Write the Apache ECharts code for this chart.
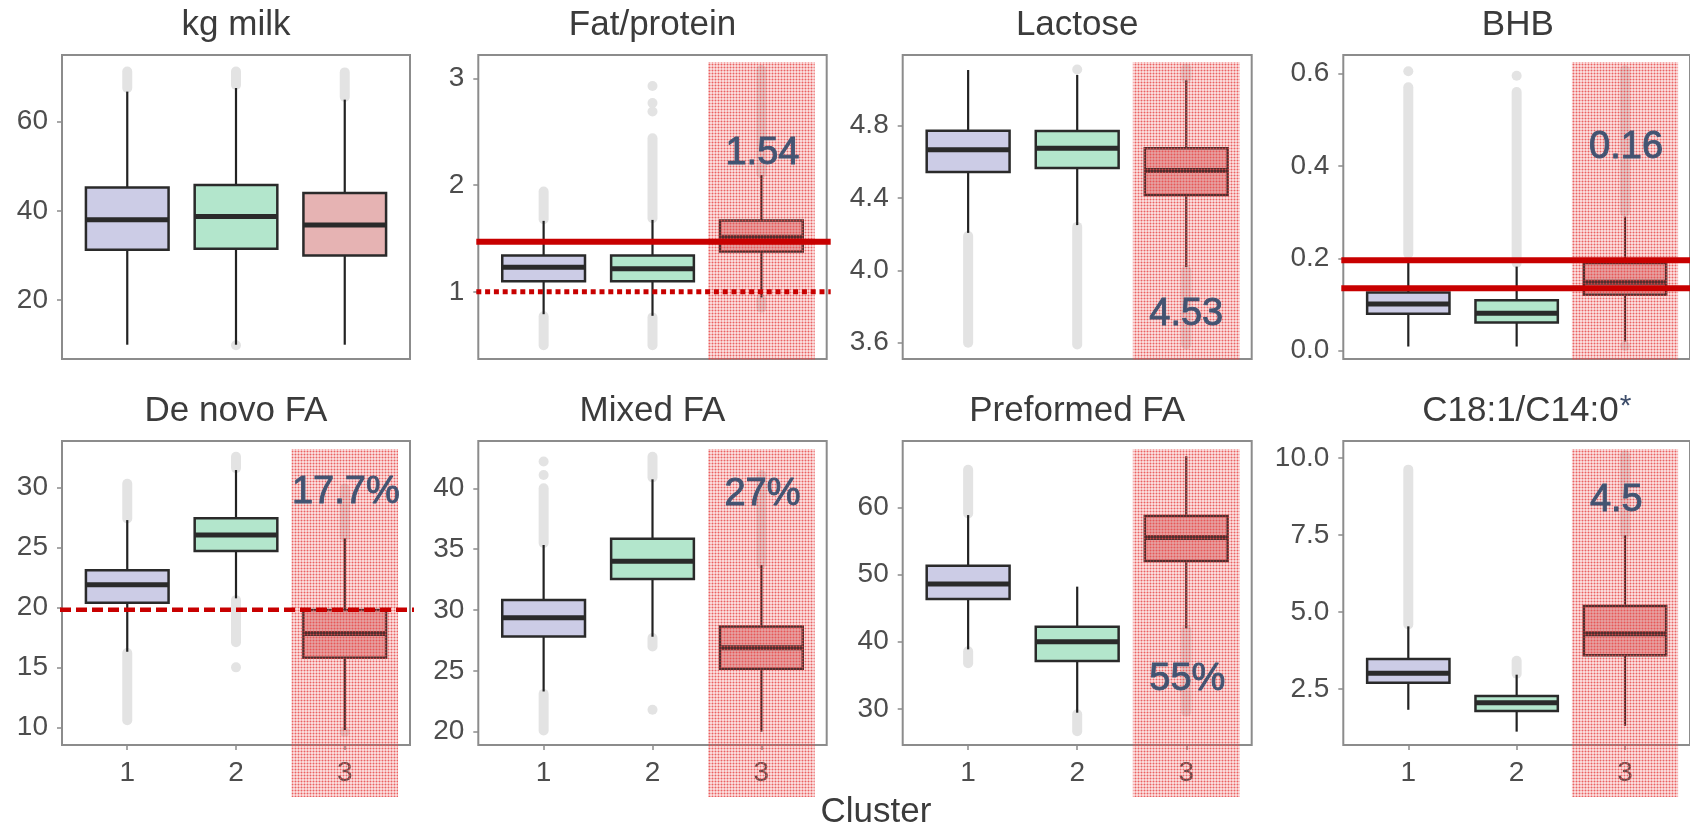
<!DOCTYPE html>
<html>
<head>
<meta charset="utf-8">
<script src="https://cdn.jsdelivr.net/npm/echarts@6/dist/echarts.min.js"></script>
<style>
  html, body { margin: 0; padding: 0; background: #ffffff; }
  #chart { width: 1690px; height: 831px; }
</style>
</head>
<body>
<div id="chart"></div>
<script>
// ---- data -------------------------------------------------------------
const clusterIds = [1, 2, 3];
const panelTitles = ['kg milk', 'Fat/protein', 'Lactose', 'BHB',
                     'De novo FA', 'Mixed FA', 'Preformed FA', 'C18:1/C14:0'];

// box statistics per cluster: [lower whisker, Q1, median, Q3, upper whisker]
const kgMilkBoxes     = [[10.0, 31.3, 38.0, 45.2, 66.7], [10.0, 31.5, 38.7, 45.8, 67.5], [10.0, 30.0, 36.8, 44.0, 64.9]];
const fatProteinBoxes = [[0.79, 1.10, 1.23, 1.34, 1.665], [0.775, 1.10, 1.215, 1.34, 1.674], [0.947, 1.377, 1.512, 1.668, 2.095]];
const lactoseBoxes    = [[4.207, 4.543, 4.666, 4.772, 5.107], [4.25, 4.565, 4.675, 4.77, 5.08], [4.018, 4.417, 4.552, 4.675, 5.05]];
const bhbBoxes        = [[0.009, 0.080, 0.101, 0.126, 0.200], [0.009, 0.061, 0.081, 0.109, 0.182], [0.020, 0.121, 0.148, 0.190, 0.290]];
const deNovoBoxes     = [[16.3, 20.38, 21.88, 23.1, 27.27], [20.75, 24.69, 26.03, 27.42, 31.44], [9.78, 15.8, 17.83, 19.78, 25.75]];
const mixedBoxes      = [[23.3, 27.81, 29.37, 30.82, 35.34], [27.8, 32.55, 34.0, 35.85, 40.74], [20.0, 25.16, 26.9, 28.65, 33.7]];
const preformedBoxes  = [[38.87, 46.36, 48.59, 51.3, 58.85], [29.45, 37.13, 40.0, 42.24, 48.2], [42.0, 52.0, 55.5, 58.7, 67.6]];
const c18Boxes        = [[1.83, 2.71, 3.02, 3.48, 4.54], [1.12, 1.79, 2.06, 2.28, 2.97], [1.31, 3.6, 4.3, 5.2, 7.5]];

// dense outlier runs per cluster: [from, to]
const kgMilkBands     = [[[67.5, 71.2]], [[68.2, 71.2]], [[65.5, 71.0]]];
const fatProteinBands = [[[1.68, 1.94], [0.50, 0.77]], [[1.69, 2.44], [0.50, 0.76]], [[2.11, 3.08], [0.85, 0.93]]];
const lactoseBands    = [[[3.60, 4.19]], [[3.59, 4.24]], [[5.06, 5.115], [3.59, 4.00]]];
const bhbBands        = [[[0.21, 0.57]], [[0.19, 0.56]], [[0.30, 0.607]]];
const deNovoBands     = [[[27.4, 30.3], [10.6, 16.2]], [[31.6, 32.55], [17.1, 20.6]], [[25.9, 29.9]]];
const mixedBands      = [[[35.5, 40.0], [20.1, 23.1]], [[40.9, 42.6], [27.0, 27.7]], [[33.8, 41.1]]];
const preformedBands  = [[[59.1, 65.6], [36.8, 38.6]], [[26.7, 29.2]], [[29.6, 41.8]]];
const c18Bands        = [[[4.6, 9.63]], [[3.0, 3.42]], [[7.55, 10.1]]];

// isolated outliers per cluster
const kgMilkPoints     = [[], [9.9], []];
const fatProteinPoints = [[], [2.69, 2.77, 2.93], []];
const lactosePoints    = [[], [5.11], []];
const bhbPoints        = [[0.605], [0.595], [0.01]];
const deNovoPoints     = [[], [15.0], [9.63]];
const mixedPoints      = [[41.1, 42.2], [21.8], []];
const preformedPoints  = [[], [], []];
const c18Points        = [[], [], []];

// y axis extents and tick values
const kgMilkRange = [6.8, 74.9],   kgMilkTicks = [20, 40, 60];
const fatProteinRange = [0.37, 3.22], fatProteinTicks = [1, 2, 3];
const lactoseRange = [3.51, 5.19], lactoseTicks = [3.6, 4.0, 4.4, 4.8];
const bhbRange = [-0.018, 0.64],   bhbTicks = [0, 0.2, 0.4, 0.6];
const deNovoRange = [8.53, 33.86], deNovoTicks = [10, 15, 20, 25, 30];
const mixedRange = [18.9, 43.89],  mixedTicks = [20, 25, 30, 35, 40];
const preformedRange = [24.64, 69.87], preformedTicks = [30, 40, 50, 60];
const c18Range = [0.686, 10.56],   c18Ticks = [2.5, 5.0, 7.5, 10.0];

// reference lines
const fatProteinRefs = [1.47, 1.0];
const bhbRefs = [0.196, 0.135];
const deNovoRefs = [19.8];

// cluster 3 call-outs (panels 2..8)
const cluster3Notes = ['1.54', '4.53', '0.16', '17.7%', '27%', '55%', '4.5'];

// ---- layout -------------------------------------------------------------
const FONT = '"Liberation Sans", Arial, Helvetica, sans-serif';
const colLeft = [62, 478.3, 902.7, 1343.3];
const colWidth = [348, 348.4, 349, 349];
const rowTop = [55, 441];
const plotH = 304;
const BOX_W = 0.76;
const fills = ['#ccccE6', '#b3e6cc', '#e6b3b3'];
const noteColor = '#435472';
const refRed = '#c80000';

const panels = [
  { boxes: kgMilkBoxes, bands: kgMilkBands, points: kgMilkPoints, range: kgMilkRange, ticks: kgMilkTicks, dec: 0 },
  { boxes: fatProteinBoxes, bands: fatProteinBands, points: fatProteinPoints, range: fatProteinRange, ticks: fatProteinTicks, dec: 0,
    note: cluster3Notes[0], noteAt: [3.01, 2.32] },
  { boxes: lactoseBoxes, bands: lactoseBands, points: lactosePoints, range: lactoseRange, ticks: lactoseTicks, dec: 1,
    note: cluster3Notes[1], noteAt: [3.0, 3.77] },
  { boxes: bhbBoxes, bands: bhbBands, points: bhbPoints, range: bhbRange, ticks: bhbTicks, dec: 1,
    note: cluster3Notes[2], noteAt: [3.01, 0.447] },
  { boxes: deNovoBoxes, bands: deNovoBands, points: deNovoPoints, range: deNovoRange, ticks: deNovoTicks, dec: 0,
    note: cluster3Notes[3], noteAt: [3.01, 29.84] },
  { boxes: mixedBoxes, bands: mixedBands, points: mixedPoints, range: mixedRange, ticks: mixedTicks, dec: 0,
    note: cluster3Notes[4], noteAt: [3.01, 39.72] },
  { boxes: preformedBoxes, bands: preformedBands, points: preformedPoints, range: preformedRange, ticks: preformedTicks, dec: 0,
    note: cluster3Notes[5], noteAt: [3.01, 34.8] },
  { boxes: c18Boxes, bands: c18Bands, points: c18Points, range: c18Range, ticks: c18Ticks, dec: 1,
    note: cluster3Notes[6], noteAt: [2.92, 8.71] }
];
panels.forEach((p, i) => { p.title = panelTitles[i]; });

// ---- rendering helpers ----------------------------------------------------
function renderBox(params, api) {
  const x = api.value(0);
  const lo = api.value(1), q1 = api.value(2), med = api.value(3), q3 = api.value(4), hi = api.value(5);
  const pLo = api.coord([x, lo]);
  const pHi = api.coord([x, hi]);
  const tl = api.coord([x - BOX_W / 2, q3]);
  const br = api.coord([x + BOX_W / 2, q1]);
  const m = api.coord([x, med]);
  const cx = pLo[0];
  return {
    type: 'group',
    children: [
      { type: 'line', shape: { x1: cx, y1: pHi[1], x2: cx, y2: tl[1] }, style: { stroke: '#222222', lineWidth: 2.2 } },
      { type: 'line', shape: { x1: cx, y1: br[1], x2: cx, y2: pLo[1] }, style: { stroke: '#222222', lineWidth: 2.2 } },
      { type: 'rect', shape: { x: tl[0], y: tl[1], width: br[0] - tl[0], height: br[1] - tl[1] },
        style: { fill: fills[Math.round(x) - 1], stroke: '#2a2a2a', lineWidth: 2.5 } },
      { type: 'line', shape: { x1: tl[0], y1: m[1], x2: br[0], y2: m[1] }, style: { stroke: '#2a2a2a', lineWidth: 5 } }
    ]
  };
}

function renderBand(params, api) {
  const a = api.coord([api.value(0), api.value(1)]);
  const b = api.coord([api.value(0), api.value(2)]);
  return { type: 'line', shape: { x1: a[0], y1: a[1], x2: b[0], y2: b[1] },
           style: { stroke: '#e3e3e3', lineWidth: 10, lineCap: 'round' } };
}

function renderPoint(params, api) {
  const c = api.coord([api.value(0), api.value(1)]);
  return { type: 'circle', shape: { cx: c[0], cy: c[1], r: 5 }, style: { fill: '#e3e3e3' } };
}

// fine red dot screen used to shade cluster 3
function makeHatch() {
  const c = document.createElement('canvas');
  c.width = 3; c.height = 3;
  const ctx = c.getContext('2d');
  const put = (x, y, a) => { ctx.fillStyle = 'rgba(230,70,70,' + a + ')'; ctx.fillRect(x, y, 1, 1); };
  put(0, 0, 0.2); put(2, 0, 0.2); put(0, 2, 0.2); put(2, 2, 0.2);
  put(1, 0, 0.45); put(0, 1, 0.45); put(2, 1, 0.45); put(1, 2, 0.45);
  put(1, 1, 0.85);
  return c;
}

// ---- option ---------------------------------------------------------------
const grids = [], xAxes = [], yAxes = [], series = [];
panels.forEach((p, i) => {
  const col = i % 4, row = Math.floor(i / 4);
  const bottomRow = row === 1;
  grids.push({ left: colLeft[col], top: rowTop[row], width: colWidth[col], height: plotH,
               show: true, backgroundColor: '#ffffff', borderColor: '#8c8c8c', borderWidth: 2 });
  xAxes.push({
    type: 'value', gridIndex: i, min: 0.4, max: 3.6,
    axisLine: { show: false }, splitLine: { show: false },
    axisTick: { show: bottomRow, customValues: clusterIds, length: 5, lineStyle: { color: '#8c8c8c', width: 1.5 } },
    axisLabel: { show: bottomRow, customValues: clusterIds, fontSize: 28, color: '#4d4d4d', fontFamily: FONT, margin: 14 }
  });
  yAxes.push({
    type: 'value', gridIndex: i, min: p.range[0], max: p.range[1],
    axisLine: { show: false }, splitLine: { show: false },
    axisTick: { show: true, customValues: p.ticks, length: 5, lineStyle: { color: '#8c8c8c', width: 1.5 } },
    axisLabel: { customValues: p.ticks, fontSize: 28, color: '#4d4d4d', fontFamily: FONT, margin: 14,
                 formatter: v => Number(v).toFixed(p.dec) }
  });
  const bandData = [], pointData = [];
  p.bands.forEach((list, k) => list.forEach(b => bandData.push([clusterIds[k], b[0], b[1]])));
  p.points.forEach((list, k) => list.forEach(v => pointData.push([clusterIds[k], v])));
  series.push({ type: 'custom', xAxisIndex: i, yAxisIndex: i, renderItem: renderBand, data: bandData,
                encode: { x: 0, y: [1, 2] }, silent: true, z: 2 });
  series.push({ type: 'custom', xAxisIndex: i, yAxisIndex: i, renderItem: renderPoint, data: pointData,
                encode: { x: 0, y: 1 }, silent: true, z: 2 });
  series.push({ type: 'custom', xAxisIndex: i, yAxisIndex: i, renderItem: renderBox,
                data: p.boxes.map((b, k) => [clusterIds[k]].concat(b)),
                encode: { x: 0, y: [1, 2, 3, 4, 5] }, silent: true, z: 3 });
});

const chart = echarts.init(document.getElementById('chart'), null, { renderer: 'canvas' });
chart.setOption({
  animation: false,
  backgroundColor: '#ffffff',
  grid: grids, xAxis: xAxes, yAxis: yAxes, series: series
});

// ---- overlays: titles, shaded cluster 3, reference lines, call-outs ---------
const hatch = { image: makeHatch(), repeat: 'repeat' };
const gfx = [];
function textEl(x, y, text, size, color, extra) {
  return {
    type: 'text', x: x, y: y, z: 120,
    style: Object.assign({ text: text, font: size + 'px ' + FONT, fontSize: size, fontFamily: FONT, fill: color,
             align: 'center', verticalAlign: 'middle', textAlign: 'center', textVerticalAlign: 'middle' }, extra || {})
  };
}

panels.forEach((p, i) => {
  const col = i % 4, row = Math.floor(i / 4);
  const gl = colLeft[col], gt = rowTop[row], gw = colWidth[col];
  const cx = gl + gw / 2;
  if (i === 7) {
    const t = textEl(cx + 9, gt - 30, p.title + '{s|*}', 35, '#3b3b3b');
    t.style.rich = { s: { fontSize: 30, fontFamily: FONT, fill: '#3d4d6a', verticalAlign: 'top', padding: [0, 0, 8, 1] } };
    gfx.push(t);
  } else {
    gfx.push(textEl(cx, gt - 30, p.title, 35, '#3b3b3b'));
  }
  if (p.note) {
    const a = chart.convertToPixel({ gridIndex: i }, [3 - 0.49, p.range[0]]);
    const b = chart.convertToPixel({ gridIndex: i }, [3 + 0.49, p.range[0]]);
    const top = gt + (row === 0 ? 7 : 8);
    const bottom = row === 0 ? gt + plotH + 1 : gt + plotH + 52;
    gfx.push({ type: 'rect', z: 50, silent: true,
               shape: { x: a[0], y: top, width: b[0] - a[0], height: bottom - top },
               style: { fill: hatch } });
    const n = chart.convertToPixel({ gridIndex: i }, p.noteAt);
    gfx.push(textEl(n[0], n[1] + 3, p.note, 38, noteColor, { stroke: noteColor, lineWidth: 0.9 }));
  }
});

function refLine(gridIndex, value, width, dash) {
  const col = gridIndex % 4;
  const y = chart.convertToPixel({ gridIndex: gridIndex }, [1, value])[1];
  return { type: 'line', z: 80, silent: true,
           shape: { x1: colLeft[col] - 2, y1: y, x2: colLeft[col] + colWidth[col] + 4, y2: y },
           style: { stroke: refRed, lineWidth: width, lineDash: dash } };
}
gfx.push(refLine(1, fatProteinRefs[0], 6, null));
gfx.push(refLine(1, fatProteinRefs[1], 5, [5, 3.8]));
bhbRefs.forEach(v => gfx.push(refLine(3, v, 6, null)));
deNovoRefs.forEach(v => gfx.push(refLine(4, v, 4.5, [11, 5])));

gfx.push(textEl(876, 812, 'Cluster', 35, '#3b3b3b'));

chart.setOption({ graphic: { elements: gfx } });
</script>
</body>
</html>
